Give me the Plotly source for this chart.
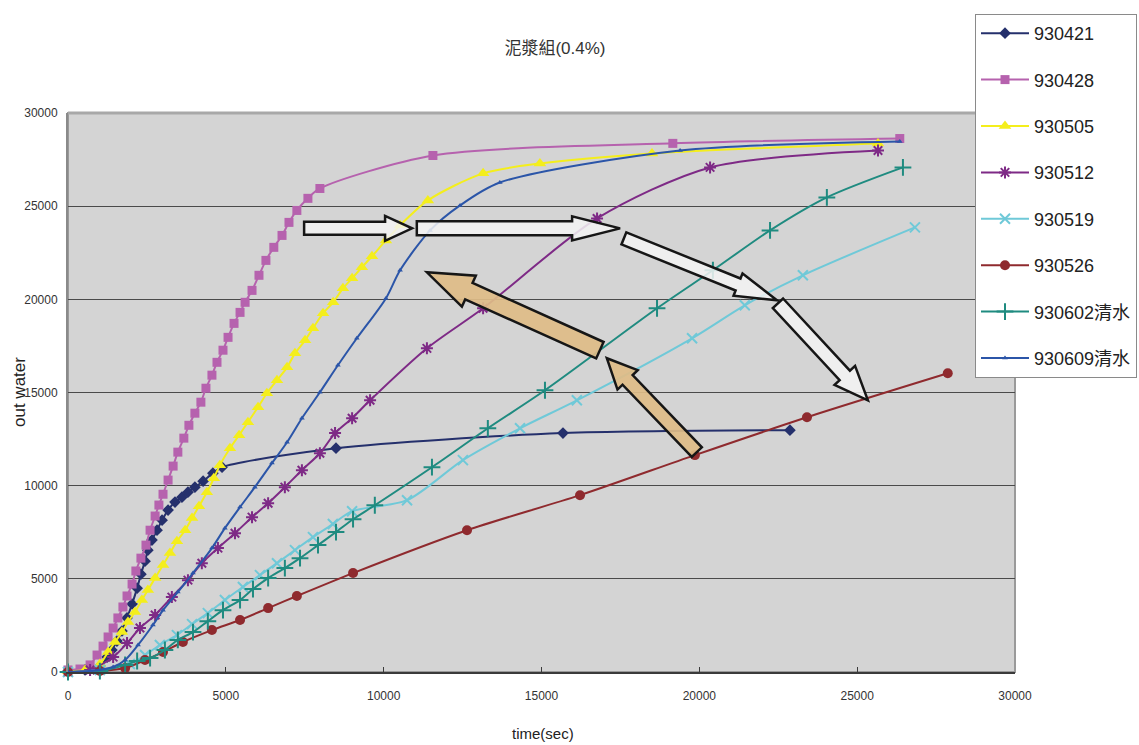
import math
import plotly.graph_objects as go

# ---- measurements: cumulative outflow water vs. time (sec) ----
t_930421 = [0, 540, 1010, 1240, 1390, 1550, 1710, 1870, 2030, 2190, 2310, 2440, 2530, 2660,
            2820, 2980, 3170, 3390, 3610, 3800, 4020, 4280, 4590, 4880, 8490, 15680, 22870]
w_930421 = [50, 110, 320, 800, 1180, 1660, 2200, 2900, 3650, 4500, 5250, 5950, 6540, 7080,
            7610, 8150, 8690, 9120, 9380, 9650, 9920, 10240, 10670, 10990, 12010, 12820, 12980]

t_930428 = [0, 380, 700, 920, 1110, 1270, 1430, 1580, 1740, 1870, 2030, 2150, 2310, 2470, 2600,
            2760, 2880, 3010, 3170, 3330, 3480, 3670, 3830, 4020, 4210, 4370, 4560, 4720, 4910,
            5070, 5260, 5450, 5610, 5830, 6050, 6270, 6520, 6780, 7000, 7250, 7600, 7980,
            11560, 19160, 26350]
w_930428 = [110, 160, 380, 910, 1390, 1880, 2360, 2900, 3490, 4080, 4720, 5420, 6110, 6810, 7610,
            8370, 8960, 9540, 10300, 11050, 11800, 12550, 13240, 13890, 14480, 15230, 15930, 16620,
            17270, 17960, 18710, 19300, 19840, 20480, 21290, 22090, 22790, 23430, 24130, 24770,
            25420, 25950, 27720, 28370, 28630]

t_930505 = [0, 540, 1010, 1270, 1490, 1710, 1900, 2120, 2340, 2530, 2760, 3010, 3230, 3450, 3710,
            3930, 4150, 4400, 4620, 4810, 5130, 5420, 5700, 6020, 6300, 6620, 6940, 7190, 7510,
            7760, 8080, 8400, 8710, 9000, 9310, 9630, 10070, 10520, 11400, 13150, 14950, 18500,
            25660]
w_930505 = [50, 110, 430, 1070, 1610, 2140, 2680, 3220, 3860, 4400, 5040, 5740, 6380, 7020, 7610,
            8260, 8900, 9650, 10400, 11100, 12010, 12710, 13410, 14210, 14960, 15660, 16350, 17100,
            17800, 18450, 19250, 19840, 20590, 21130, 21720, 22310, 23160, 23970, 25310, 26760,
            27290, 27830, 28360]

t_930512 = [0, 700, 1430, 1870, 2280, 2760, 3290, 3800, 4240, 4750, 5290, 5830, 6340, 6870, 7410,
            7980, 8460, 9000, 9570, 11370, 13150, 16760, 20340, 25660]
w_930512 = [0, 110, 800, 1550, 2360, 3060, 4020, 4930, 5840, 6650, 7450, 8310, 9060, 9920, 10830,
            11740, 12820, 13620, 14580, 17370, 19520, 24340, 27080, 27990]

t_930519 = [0, 1010, 1960, 2440, 2910, 3450, 3930, 4430, 4970, 5540, 6080, 6620, 7190, 7760, 8390,
            9000, 10740, 12510, 14320, 16120, 19770, 21440, 23280, 26830]
w_930519 = [0, 110, 430, 910, 1450, 1980, 2570, 3160, 3860, 4560, 5200, 5840, 6540, 7240, 7940,
            8630, 9220, 11370, 13080, 14580, 17910, 19680, 21290, 23860]

t_930526 = [0, 1010, 1810, 2440, 3010, 3640, 4560, 5450, 6340, 7250, 9030, 12640, 16220, 19860,
            23410, 27870]
w_930526 = [0, 50, 210, 640, 1070, 1610, 2250, 2790, 3430, 4080, 5310, 7610, 9490, 11640, 13670,
            16030]

t_930602 = [0, 1010, 1810, 2190, 2600, 3070, 3480, 3960, 4430, 4910, 5450, 5860, 6340, 6870, 7350,
            7920, 8490, 9030, 9720, 11530, 13300, 15110, 18660, 20430, 22240, 24040, 26450]
w_930602 = [0, 50, 380, 590, 750, 1180, 1720, 2140, 2730, 3320, 3860, 4450, 5040, 5580, 6110,
            6810, 7510, 8200, 8950, 10990, 13080, 15120, 19520, 21560, 23700, 25470, 27080]

t_930609 = [0, 700, 1430, 1810, 2220, 2690, 3010, 3480, 3960, 4560, 4970, 5450, 5920, 6460, 6940,
            7410, 7980, 8550, 9150, 10070, 10520, 11470, 12420, 13680, 19390, 26350]
w_930609 = [0, 50, 270, 640, 1450, 2520, 3320, 4290, 5310, 6650, 7720, 8850, 9920, 11210, 12330,
            13620, 15010, 16460, 17910, 20050, 21560, 23700, 25040, 26270, 27990, 28470]

series_names = ["930421", "930428", "930505", "930512", "930519", "930526",
                "930602清水", "930609清水"]
series_t = [t_930421, t_930428, t_930505, t_930512, t_930519, t_930526, t_930602, t_930609]
series_w = [w_930421, w_930428, w_930505, w_930512, w_930519, w_930526, w_930602, w_930609]

x_ticks = [0, 5000, 10000, 15000, 20000, 25000, 30000]
y_ticks = [0, 5000, 10000, 15000, 20000, 25000, 30000]

# ---- styling ----
W, H = 1139, 745
ML, MR, MT, MB = 68, 124, 113, 73
PW, PH = W - ML - MR, H - MT - MB
XMAX, YMAX = 30000, 30000

NARROW = "Liberation Sans Narrow, Arial Narrow, Liberation Sans, Noto Sans CJK TC, sans-serif"

styles = [
    dict(color="#25306c", symbol="diamond", size=9, lw=0),
    dict(color="#b662ae", symbol="square", size=9, lw=0),
    dict(color="#f4ee1c", symbol="triangle-up", size=11, lw=0),
    dict(color="#7e2a86", symbol="asterisk-open", size=10, lw=2),
    dict(color="#6fc9d8", symbol="x-thin-open", size=10, lw=2),
    dict(color="#8f2a2e", symbol="circle", size=10, lw=0),
    dict(color="#1f8b80", symbol="cross-thin-open", size=12, lw=2),
    dict(color="#2b55a8", symbol="triangle-up", size=5, lw=0),
]

fig = go.Figure()
for i, (name, t, w, st) in enumerate(zip(series_names, series_t, series_w, styles)):
    marker = dict(symbol=st["symbol"], size=st["size"], color=st["color"])
    if st["lw"]:
        marker["line"] = dict(color=st["color"], width=st["lw"])
    fig.add_trace(go.Scatter(
        x=t, y=w, name=name, mode="lines+markers",
        line=dict(color=st["color"], width=2, shape="spline", smoothing=0.8),
        marker=marker, cliponaxis=False, legendgroup=f"g{i}",
    ))


def block_arrow(tail, tip, body_half, head_half, head_len):
    """Block arrow outline (pixel-proportioned) expressed in data coordinates."""
    sx, sy = PW / XMAX, PH / YMAX
    x0, y0 = tail[0] * sx, tail[1] * sy
    x1, y1 = tip[0] * sx, tip[1] * sy
    dx, dy = x1 - x0, y1 - y0
    L = math.hypot(dx, dy)
    ux, uy = dx / L, dy / L
    nx, ny = -uy, ux
    bx, by = x1 - ux * head_len, y1 - uy * head_len
    pts = [
        (x0 + nx * body_half, y0 + ny * body_half),
        (bx + nx * body_half, by + ny * body_half),
        (bx + nx * head_half, by + ny * head_half),
        (x1, y1),
        (bx - nx * head_half, by - ny * head_half),
        (bx - nx * body_half, by - ny * body_half),
        (x0 - nx * body_half, y0 - ny * body_half),
    ]
    return "M " + " L ".join(f"{px / sx:.1f},{py / sy:.1f}" for px, py in pts) + " Z"


WHITE = "rgba(243,243,243,0.85)"
TAN = "rgba(222,188,135,0.92)"
arrows = [
    # (tail, tip, body half-width, head half-width, head length, fill)
    ((7480, 23810), (10900, 23810), 6.5, 12.5, 27, WHITE),
    ((11050, 23810), (17490, 23810), 7, 12, 48, WHITE),
    ((17610, 23270), (22460, 19950), 6.5, 12, 42, WHITE),
    ((22490, 19790), (25340, 14580), 7, 14, 34, WHITE),
    ((16850, 17270), (11370, 21450), 9, 17, 46, TAN),
    ((19920, 11800), (17070, 16840), 7, 14, 30, TAN),
]
for tail, tip, bh, hh, hl, fill in arrows:
    fig.add_shape(type="path", xref="x", yref="y", path=block_arrow(tail, tip, bh, hh, hl),
                  fillcolor=fill, line=dict(color="#161616", width=2.5), layer="above")

# plot frame
fig.add_shape(type="rect", xref="paper", yref="paper", x0=0, x1=1, y0=0, y1=1,
              line=dict(color="#9a9a9a", width=2), layer="below")
fig.add_shape(type="line", xref="paper", yref="paper", x0=0, x1=1, y0=1, y1=1,
              line=dict(color="#a8a8a8", width=3), layer="below")

fig.add_annotation(text="time(sec)", xref="paper", yref="paper",
                   x=(543 - ML) / PW, y=(MT + PH - 733) / PH, showarrow=False,
                   xanchor="center", yanchor="middle",
                   font=dict(family=NARROW, size=15, color="#222"))
fig.add_annotation(text="out water", xref="paper", yref="paper",
                   x=(19 - ML) / PW, y=(MT + PH - 392) / PH, showarrow=False, textangle=-90,
                   xanchor="center", yanchor="middle",
                   font=dict(family=NARROW, size=17, color="#222"))

fig.update_layout(
    width=W, height=H,
    margin=dict(l=ML, r=MR, t=MT, b=MB, autoexpand=False),
    paper_bgcolor="white",
    plot_bgcolor="#d4d4d4",
    title=dict(text="泥漿組(0.4%)", x=(555 - ML) / PW, xref="paper", xanchor="center",
               y=1 - 48 / H, yref="container", yanchor="middle",
               font=dict(family=NARROW, size=17, color="#333")),
    xaxis=dict(range=[0, XMAX], tickvals=x_ticks, tickformat="d", showgrid=False,
               zeroline=False, showline=True, linecolor="#3a3a3a", linewidth=2,
               ticks="inside", ticklen=5, tickcolor="#3a3a3a", ticklabelstandoff=12,
               tickfont=dict(family=NARROW, size=12, color="#333")),
    yaxis=dict(range=[0, YMAX], tickvals=y_ticks, tickformat="d", showgrid=True,
               gridcolor="#4a4a4a", gridwidth=1, zeroline=False, showline=True,
               linecolor="#8a8a8a", linewidth=2, ticks="", ticklabelstandoff=6,
               tickfont=dict(family=NARROW, size=12, color="#333")),
    legend=dict(x=(975 - ML) / PW, y=(MT + PH - 14) / PH, xanchor="left", yanchor="top",
                bgcolor="white", bordercolor="#8a8a8a", borderwidth=1,
                font=dict(family=NARROW, size=18, color="#222"),
                itemwidth=48, tracegroupgap=20, traceorder="grouped"),
    showlegend=True,
)

fig.write_html("out.html")
